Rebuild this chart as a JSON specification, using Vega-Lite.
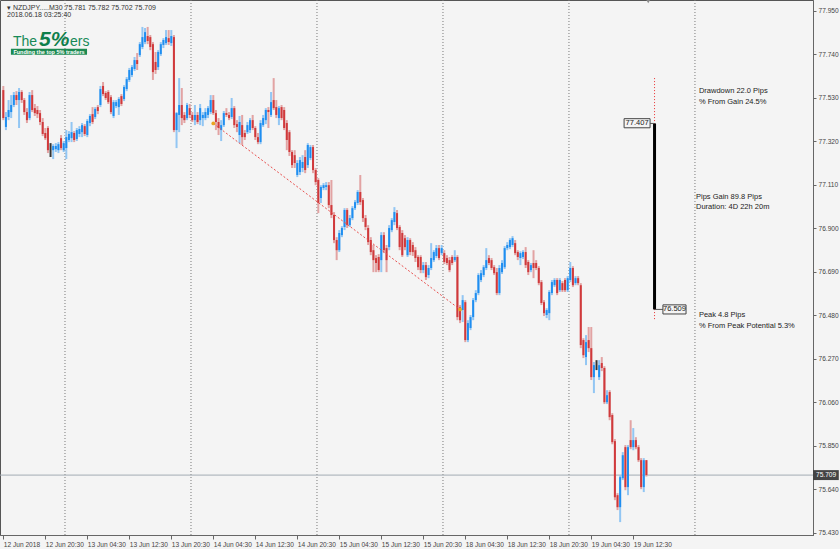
{
"$schema": "https://vega.github.io/schema/vega-lite/v6.json",
"width": 813, "height": 535,
"autosize": {"type": "none"},
"padding": {"left": 0, "top": 0, "right": 27, "bottom": 14},
"background": "#f4f4f4",
"config": {"view": {"stroke": "#555", "strokeWidth": 1, "fill": "#f4f4f4"}, "font": "Liberation Sans"},
"data": {"values": [{}]},
"datasets": {
"bars": [
{"i":0,"o":77.568,"c":77.433,"h":77.588,"l":77.423},
{"i":1,"o":77.390,"c":77.438,"h":77.462,"l":77.375},
{"i":2,"o":77.438,"c":77.472,"h":77.520,"l":77.423},
{"i":3,"o":77.462,"c":77.496,"h":77.544,"l":77.433},
{"i":4,"o":77.496,"c":77.544,"h":77.559,"l":77.486},
{"i":5,"o":77.544,"c":77.520,"h":77.563,"l":77.496},
{"i":6,"o":77.520,"c":77.559,"h":77.578,"l":77.385},
{"i":7,"o":77.559,"c":77.520,"h":77.568,"l":77.506},
{"i":8,"o":77.520,"c":77.462,"h":77.530,"l":77.448},
{"i":9,"o":77.462,"c":77.423,"h":77.481,"l":77.409},
{"i":10,"o":77.433,"c":77.544,"h":77.559,"l":77.423},
{"i":11,"o":77.544,"c":77.472,"h":77.568,"l":77.462},
{"i":12,"o":77.481,"c":77.457,"h":77.501,"l":77.443},
{"i":13,"o":77.472,"c":77.452,"h":77.491,"l":77.433},
{"i":14,"o":77.457,"c":77.414,"h":77.472,"l":77.399},
{"i":15,"o":77.414,"c":77.356,"h":77.433,"l":77.346},
{"i":16,"o":77.361,"c":77.336,"h":77.385,"l":77.327},
{"i":17,"o":77.385,"c":77.278,"h":77.394,"l":77.264},
{"i":18,"o":77.283,"c":77.283,"h":77.312,"l":77.245},
{"i":19,"o":77.278,"c":77.298,"h":77.307,"l":77.235},
{"i":20,"o":77.283,"c":77.298,"h":77.312,"l":77.269},
{"i":21,"o":77.278,"c":77.307,"h":77.317,"l":77.264},
{"i":22,"o":77.336,"c":77.288,"h":77.351,"l":77.278},
{"i":23,"o":77.278,"c":77.312,"h":77.322,"l":77.269},
{"i":24,"o":77.288,"c":77.341,"h":77.375,"l":77.235},
{"i":25,"o":77.327,"c":77.356,"h":77.370,"l":77.317},
{"i":26,"o":77.336,"c":77.365,"h":77.414,"l":77.317},
{"i":27,"o":77.361,"c":77.327,"h":77.370,"l":77.317},
{"i":28,"o":77.332,"c":77.375,"h":77.385,"l":77.322},
{"i":29,"o":77.356,"c":77.380,"h":77.394,"l":77.341},
{"i":30,"o":77.365,"c":77.399,"h":77.409,"l":77.341},
{"i":31,"o":77.394,"c":77.356,"h":77.404,"l":77.346},
{"i":32,"o":77.351,"c":77.419,"h":77.428,"l":77.341},
{"i":33,"o":77.409,"c":77.443,"h":77.452,"l":77.394},
{"i":34,"o":77.452,"c":77.414,"h":77.486,"l":77.404},
{"i":35,"o":77.438,"c":77.477,"h":77.486,"l":77.428},
{"i":36,"o":77.486,"c":77.467,"h":77.496,"l":77.452},
{"i":37,"o":77.496,"c":77.573,"h":77.588,"l":77.486},
{"i":38,"o":77.588,"c":77.549,"h":77.607,"l":77.539},
{"i":39,"o":77.554,"c":77.530,"h":77.563,"l":77.520},
{"i":40,"o":77.559,"c":77.510,"h":77.568,"l":77.501},
{"i":41,"o":77.534,"c":77.462,"h":77.544,"l":77.452},
{"i":42,"o":77.443,"c":77.510,"h":77.520,"l":77.433},
{"i":43,"o":77.491,"c":77.510,"h":77.520,"l":77.481},
{"i":44,"o":77.486,"c":77.525,"h":77.534,"l":77.448},
{"i":45,"o":77.539,"c":77.501,"h":77.549,"l":77.491},
{"i":46,"o":77.525,"c":77.583,"h":77.592,"l":77.515},
{"i":47,"o":77.573,"c":77.621,"h":77.631,"l":77.563},
{"i":48,"o":77.617,"c":77.665,"h":77.675,"l":77.607},
{"i":49,"o":77.641,"c":77.679,"h":77.689,"l":77.631},
{"i":50,"o":77.670,"c":77.713,"h":77.728,"l":77.660},
{"i":51,"o":77.713,"c":77.694,"h":77.747,"l":77.665},
{"i":52,"o":77.737,"c":77.790,"h":77.800,"l":77.728},
{"i":53,"o":77.776,"c":77.824,"h":77.873,"l":77.766},
{"i":54,"o":77.800,"c":77.848,"h":77.868,"l":77.790},
{"i":55,"o":77.829,"c":77.805,"h":77.873,"l":77.790},
{"i":56,"o":77.824,"c":77.776,"h":77.834,"l":77.761},
{"i":57,"o":77.790,"c":77.655,"h":77.800,"l":77.617},
{"i":58,"o":77.704,"c":77.665,"h":77.752,"l":77.646},
{"i":59,"o":77.679,"c":77.752,"h":77.761,"l":77.665},
{"i":60,"o":77.742,"c":77.790,"h":77.800,"l":77.733},
{"i":61,"o":77.786,"c":77.810,"h":77.819,"l":77.771},
{"i":62,"o":77.795,"c":77.824,"h":77.858,"l":77.786},
{"i":63,"o":77.819,"c":77.800,"h":77.858,"l":77.786},
{"i":64,"o":77.795,"c":77.829,"h":77.858,"l":77.781},
{"i":65,"o":77.824,"c":77.375,"h":77.834,"l":77.365},
{"i":66,"o":77.375,"c":77.457,"h":77.462,"l":77.288},
{"i":67,"o":77.448,"c":77.496,"h":77.626,"l":77.365},
{"i":68,"o":77.496,"c":77.433,"h":77.578,"l":77.399},
{"i":69,"o":77.448,"c":77.423,"h":77.462,"l":77.409},
{"i":70,"o":77.433,"c":77.496,"h":77.506,"l":77.423},
{"i":71,"o":77.481,"c":77.448,"h":77.501,"l":77.433},
{"i":72,"o":77.448,"c":77.423,"h":77.462,"l":77.414},
{"i":73,"o":77.423,"c":77.448,"h":77.496,"l":77.399},
{"i":74,"o":77.448,"c":77.414,"h":77.462,"l":77.404},
{"i":75,"o":77.423,"c":77.481,"h":77.501,"l":77.399},
{"i":76,"o":77.433,"c":77.448,"h":77.462,"l":77.394},
{"i":77,"o":77.433,"c":77.462,"h":77.481,"l":77.423},
{"i":78,"o":77.448,"c":77.481,"h":77.491,"l":77.433},
{"i":79,"o":77.462,"c":77.520,"h":77.544,"l":77.452},
{"i":80,"o":77.520,"c":77.457,"h":77.544,"l":77.448},
{"i":81,"o":77.457,"c":77.414,"h":77.472,"l":77.375},
{"i":82,"o":77.414,"c":77.385,"h":77.433,"l":77.351},
{"i":83,"o":77.375,"c":77.399,"h":77.423,"l":77.322},
{"i":84,"o":77.399,"c":77.457,"h":77.467,"l":77.390},
{"i":85,"o":77.457,"c":77.448,"h":77.481,"l":77.438},
{"i":86,"o":77.448,"c":77.433,"h":77.462,"l":77.423},
{"i":87,"o":77.438,"c":77.481,"h":77.530,"l":77.428},
{"i":88,"o":77.481,"c":77.399,"h":77.491,"l":77.385},
{"i":89,"o":77.404,"c":77.390,"h":77.423,"l":77.365},
{"i":90,"o":77.351,"c":77.414,"h":77.443,"l":77.312},
{"i":91,"o":77.399,"c":77.341,"h":77.448,"l":77.303},
{"i":92,"o":77.361,"c":77.341,"h":77.375,"l":77.327},
{"i":93,"o":77.365,"c":77.399,"h":77.414,"l":77.356},
{"i":94,"o":77.375,"c":77.423,"h":77.433,"l":77.361},
{"i":95,"o":77.423,"c":77.385,"h":77.448,"l":77.375},
{"i":96,"o":77.385,"c":77.341,"h":77.394,"l":77.327},
{"i":97,"o":77.341,"c":77.317,"h":77.361,"l":77.307},
{"i":98,"o":77.317,"c":77.409,"h":77.423,"l":77.307},
{"i":99,"o":77.399,"c":77.433,"h":77.448,"l":77.390},
{"i":100,"o":77.423,"c":77.472,"h":77.481,"l":77.404},
{"i":101,"o":77.472,"c":77.462,"h":77.486,"l":77.385},
{"i":102,"o":77.448,"c":77.510,"h":77.559,"l":77.438},
{"i":103,"o":77.520,"c":77.481,"h":77.626,"l":77.472},
{"i":104,"o":77.486,"c":77.448,"h":77.520,"l":77.433},
{"i":105,"o":77.433,"c":77.481,"h":77.491,"l":77.399},
{"i":106,"o":77.486,"c":77.433,"h":77.496,"l":77.423},
{"i":107,"o":77.472,"c":77.385,"h":77.486,"l":77.375},
{"i":108,"o":77.409,"c":77.327,"h":77.423,"l":77.278},
{"i":109,"o":77.365,"c":77.269,"h":77.375,"l":77.250},
{"i":110,"o":77.269,"c":77.206,"h":77.278,"l":77.192},
{"i":111,"o":77.254,"c":77.216,"h":77.278,"l":77.192},
{"i":112,"o":77.158,"c":77.216,"h":77.230,"l":77.148},
{"i":113,"o":77.172,"c":77.230,"h":77.245,"l":77.158},
{"i":114,"o":77.192,"c":77.221,"h":77.254,"l":77.172},
{"i":115,"o":77.245,"c":77.182,"h":77.278,"l":77.167},
{"i":116,"o":77.206,"c":77.303,"h":77.312,"l":77.192},
{"i":117,"o":77.240,"c":77.293,"h":77.303,"l":77.230},
{"i":118,"o":77.293,"c":77.182,"h":77.303,"l":77.167},
{"i":119,"o":77.182,"c":77.124,"h":77.192,"l":77.109},
{"i":120,"o":77.134,"c":77.023,"h":77.143,"l":76.974},
{"i":121,"o":77.047,"c":77.100,"h":77.109,"l":77.023},
{"i":122,"o":77.095,"c":77.109,"h":77.119,"l":77.085},
{"i":123,"o":77.100,"c":77.109,"h":77.124,"l":77.085},
{"i":124,"o":77.109,"c":77.013,"h":77.124,"l":76.998},
{"i":125,"o":77.013,"c":76.965,"h":77.134,"l":76.950},
{"i":126,"o":76.965,"c":76.844,"h":76.979,"l":76.829},
{"i":127,"o":76.844,"c":76.795,"h":76.858,"l":76.747},
{"i":128,"o":76.795,"c":76.878,"h":76.892,"l":76.786},
{"i":129,"o":76.868,"c":76.902,"h":76.911,"l":76.858},
{"i":130,"o":76.907,"c":76.989,"h":76.998,"l":76.892},
{"i":131,"o":76.989,"c":76.916,"h":76.998,"l":76.902},
{"i":132,"o":76.916,"c":76.950,"h":76.965,"l":76.907},
{"i":133,"o":76.950,"c":76.998,"h":77.008,"l":76.940},
{"i":134,"o":76.998,"c":77.027,"h":77.037,"l":76.989},
{"i":135,"o":77.023,"c":77.076,"h":77.085,"l":77.013},
{"i":136,"o":77.076,"c":77.027,"h":77.158,"l":77.013},
{"i":137,"o":77.037,"c":76.950,"h":77.047,"l":76.931},
{"i":138,"o":76.950,"c":76.907,"h":76.965,"l":76.892},
{"i":139,"o":76.902,"c":76.834,"h":76.916,"l":76.820},
{"i":140,"o":76.844,"c":76.786,"h":76.858,"l":76.771},
{"i":141,"o":76.795,"c":76.747,"h":76.820,"l":76.689},
{"i":142,"o":76.757,"c":76.733,"h":76.771,"l":76.689},
{"i":143,"o":76.762,"c":76.699,"h":76.776,"l":76.689},
{"i":144,"o":76.747,"c":76.868,"h":76.882,"l":76.689},
{"i":145,"o":76.868,"c":76.795,"h":76.882,"l":76.781},
{"i":146,"o":76.805,"c":76.747,"h":76.820,"l":76.689},
{"i":147,"o":76.810,"c":76.902,"h":76.916,"l":76.795},
{"i":148,"o":76.892,"c":76.940,"h":76.950,"l":76.882},
{"i":149,"o":76.931,"c":76.979,"h":77.003,"l":76.916},
{"i":150,"o":76.974,"c":76.902,"h":76.989,"l":76.892},
{"i":151,"o":76.907,"c":76.810,"h":76.916,"l":76.795},
{"i":152,"o":76.878,"c":76.771,"h":76.892,"l":76.762},
{"i":153,"o":76.853,"c":76.810,"h":76.868,"l":76.795},
{"i":154,"o":76.771,"c":76.844,"h":76.858,"l":76.762},
{"i":155,"o":76.844,"c":76.786,"h":76.853,"l":76.771},
{"i":156,"o":76.820,"c":76.786,"h":76.834,"l":76.767},
{"i":157,"o":76.795,"c":76.757,"h":76.810,"l":76.738},
{"i":158,"o":76.762,"c":76.713,"h":76.771,"l":76.699},
{"i":159,"o":76.762,"c":76.699,"h":76.771,"l":76.684},
{"i":160,"o":76.699,"c":76.723,"h":76.738,"l":76.684},
{"i":161,"o":76.723,"c":76.665,"h":76.738,"l":76.651},
{"i":162,"o":76.675,"c":76.709,"h":76.723,"l":76.660},
{"i":163,"o":76.709,"c":76.757,"h":76.829,"l":76.699},
{"i":164,"o":76.747,"c":76.786,"h":76.795,"l":76.738},
{"i":165,"o":76.767,"c":76.805,"h":76.820,"l":76.757},
{"i":166,"o":76.805,"c":76.757,"h":76.820,"l":76.747},
{"i":167,"o":76.781,"c":76.805,"h":76.820,"l":76.771},
{"i":168,"o":76.781,"c":76.738,"h":76.795,"l":76.728},
{"i":169,"o":76.757,"c":76.733,"h":76.771,"l":76.723},
{"i":170,"o":76.747,"c":76.699,"h":76.762,"l":76.689},
{"i":171,"o":76.762,"c":76.733,"h":76.771,"l":76.723},
{"i":172,"o":76.747,"c":76.762,"h":76.795,"l":76.738},
{"i":173,"o":76.762,"c":76.472,"h":76.771,"l":76.457},
{"i":174,"o":76.520,"c":76.457,"h":76.530,"l":76.443},
{"i":175,"o":76.506,"c":76.554,"h":76.578,"l":76.448},
{"i":176,"o":76.544,"c":76.361,"h":76.554,"l":76.351},
{"i":177,"o":76.361,"c":76.443,"h":76.457,"l":76.351},
{"i":178,"o":76.419,"c":76.472,"h":76.482,"l":76.409},
{"i":179,"o":76.472,"c":76.554,"h":76.564,"l":76.457},
{"i":180,"o":76.554,"c":76.588,"h":76.602,"l":76.544},
{"i":181,"o":76.588,"c":76.675,"h":76.684,"l":76.578},
{"i":182,"o":76.651,"c":76.684,"h":76.699,"l":76.641},
{"i":183,"o":76.675,"c":76.713,"h":76.723,"l":76.665},
{"i":184,"o":76.709,"c":76.747,"h":76.805,"l":76.699},
{"i":185,"o":76.757,"c":76.733,"h":76.771,"l":76.723},
{"i":186,"o":76.747,"c":76.709,"h":76.757,"l":76.699},
{"i":187,"o":76.713,"c":76.684,"h":76.723,"l":76.675},
{"i":188,"o":76.689,"c":76.588,"h":76.709,"l":76.578},
{"i":189,"o":76.588,"c":76.709,"h":76.723,"l":76.578},
{"i":190,"o":76.689,"c":76.733,"h":76.747,"l":76.680},
{"i":191,"o":76.713,"c":76.805,"h":76.815,"l":76.704},
{"i":192,"o":76.805,"c":76.820,"h":76.834,"l":76.795},
{"i":193,"o":76.810,"c":76.844,"h":76.853,"l":76.800},
{"i":194,"o":76.820,"c":76.853,"h":76.863,"l":76.810},
{"i":195,"o":76.829,"c":76.781,"h":76.844,"l":76.771},
{"i":196,"o":76.786,"c":76.762,"h":76.795,"l":76.747},
{"i":197,"o":76.757,"c":76.781,"h":76.790,"l":76.723},
{"i":198,"o":76.762,"c":76.786,"h":76.795,"l":76.752},
{"i":199,"o":76.786,"c":76.723,"h":76.810,"l":76.709},
{"i":200,"o":76.738,"c":76.689,"h":76.747,"l":76.675},
{"i":201,"o":76.699,"c":76.723,"h":76.733,"l":76.689},
{"i":202,"o":76.733,"c":76.709,"h":76.795,"l":76.660},
{"i":203,"o":76.733,"c":76.709,"h":76.747,"l":76.699},
{"i":204,"o":76.709,"c":76.636,"h":76.718,"l":76.626},
{"i":205,"o":76.641,"c":76.540,"h":76.651,"l":76.530},
{"i":206,"o":76.544,"c":76.491,"h":76.554,"l":76.477},
{"i":207,"o":76.482,"c":76.506,"h":76.515,"l":76.467},
{"i":208,"o":76.491,"c":76.593,"h":76.602,"l":76.457},
{"i":209,"o":76.588,"c":76.641,"h":76.651,"l":76.578},
{"i":210,"o":76.626,"c":76.651,"h":76.660,"l":76.617},
{"i":211,"o":76.651,"c":76.588,"h":76.660,"l":76.578},
{"i":212,"o":76.602,"c":76.651,"h":76.660,"l":76.593},
{"i":213,"o":76.636,"c":76.602,"h":76.646,"l":76.593},
{"i":214,"o":76.651,"c":76.602,"h":76.660,"l":76.593},
{"i":215,"o":76.602,"c":76.660,"h":76.670,"l":76.593},
{"i":216,"o":76.651,"c":76.709,"h":76.738,"l":76.641},
{"i":217,"o":76.709,"c":76.626,"h":76.718,"l":76.617},
{"i":218,"o":76.636,"c":76.660,"h":76.670,"l":76.626},
{"i":219,"o":76.660,"c":76.636,"h":76.670,"l":76.626},
{"i":220,"o":76.626,"c":76.337,"h":76.636,"l":76.322},
{"i":221,"o":76.361,"c":76.288,"h":76.370,"l":76.274},
{"i":222,"o":76.279,"c":76.351,"h":76.385,"l":76.240},
{"i":223,"o":76.361,"c":76.322,"h":76.424,"l":76.303},
{"i":224,"o":76.322,"c":76.182,"h":76.424,"l":76.168},
{"i":225,"o":76.182,"c":76.240,"h":76.255,"l":76.105},
{"i":226,"o":76.245,"c":76.245,"h":76.264,"l":76.216},
{"i":227,"o":76.182,"c":76.240,"h":76.264,"l":76.168},
{"i":228,"o":76.250,"c":76.226,"h":76.279,"l":76.211},
{"i":229,"o":76.226,"c":76.061,"h":76.235,"l":76.052},
{"i":230,"o":76.061,"c":76.095,"h":76.119,"l":76.052},
{"i":231,"o":76.110,"c":75.989,"h":76.119,"l":75.974},
{"i":232,"o":75.999,"c":75.868,"h":76.008,"l":75.858},
{"i":233,"o":75.873,"c":75.602,"h":75.883,"l":75.588},
{"i":234,"o":75.612,"c":75.554,"h":75.622,"l":75.540},
{"i":235,"o":75.554,"c":75.699,"h":75.709,"l":75.482},
{"i":236,"o":75.694,"c":75.805,"h":75.820,"l":75.685},
{"i":237,"o":75.844,"c":75.651,"h":75.854,"l":75.636},
{"i":238,"o":75.651,"c":75.844,"h":75.854,"l":75.612},
{"i":239,"o":75.878,"c":75.844,"h":75.974,"l":75.834},
{"i":240,"o":75.844,"c":75.878,"h":75.936,"l":75.829},
{"i":241,"o":75.878,"c":75.844,"h":75.892,"l":75.834},
{"i":242,"o":75.844,"c":75.781,"h":75.854,"l":75.772},
{"i":243,"o":75.781,"c":75.651,"h":75.791,"l":75.641},
{"i":244,"o":75.651,"c":75.781,"h":75.791,"l":75.627},
{"i":245,"o":75.781,"c":75.709,"h":75.782,"l":75.702}
],
"days": [{"i":23.5},{"i":71.5},{"i":119.5},{"i":167.5},{"i":215.5},{"i":263.5}]
},
"layer": [
{"data": {"name": "days"}, "mark": {"type": "rule", "color": "#7a7a7a", "strokeDash": [1, 2], "strokeWidth": 1},
 "encoding": {"x": {"field": "i", "type": "quantitative", "title": null,
   "scale": {"domain": [-1.26, 308.47], "nice": false, "zero": false},
   "axis": {"values": [0,16,32,48,64,80,96,112,128,144,160,176,192,208,224,240],
     "labelExpr": "['12 Jun 2018','12 Jun 20:30','13 Jun 04:30','13 Jun 12:30','13 Jun 20:30','14 Jun 04:30','14 Jun 12:30','14 Jun 20:30','15 Jun 04:30','15 Jun 12:30','15 Jun 20:30','18 Jun 04:30','18 Jun 12:30','18 Jun 20:30','19 Jun 04:30','19 Jun 12:30'][round(datum.value/16)]",
     "labelAlign": "left", "labelFontSize": 6.6, "labelColor": "#444", "labelFont": "Liberation Sans", "labelPadding": 2,
     "tickSize": 4, "tickColor": "#666", "domainColor": "#666", "grid": false, "labelOverlap": false, "labelFlush": false}}}},
{"data": {"values": [{"p": 75.709}]}, "mark": {"type": "rule", "color": "#a3abb3", "strokeWidth": 1},
 "encoding": {"y": {"field": "p", "type": "quantitative", "title": null,
   "scale": {"domain": [75.4197, 78.0031], "nice": false, "zero": false},
   "axis": {"orient": "right", "values": [75.43,75.535,75.64,75.745,75.85,75.955,76.06,76.165,76.27,76.375,76.48,76.585,76.69,76.795,76.9,77.005,77.11,77.215,77.32,77.425,77.53,77.635,77.74,77.845,77.95],
     "format": ".3f", "labelFontSize": 6.6, "labelColor": "#444", "labelFont": "Liberation Sans", "labelPadding": 2,
     "tickSize": 3, "tickColor": "#666", "domainColor": "#666", "grid": false, "labelOverlap": false, "labelFlush": false}}}},
{"data": {"name": "bars"}, "mark": {"type": "rule", "strokeWidth": 2},
 "encoding": {"x": {"field": "i", "type": "quantitative", "title": null},
   "y": {"field": "l", "type": "quantitative", "title": null}, "y2": {"field": "h"},
   "color": {"condition": [{"test": "datum.c > datum.o", "value": "#92c6f3"}, {"test": "datum.c < datum.o", "value": "#e2a3a3"}], "value": "#333333"}}},
{"data": {"name": "bars"}, "mark": {"type": "rule", "strokeWidth": 2},
 "encoding": {"x": {"field": "i", "type": "quantitative", "title": null},
   "y": {"field": "o", "type": "quantitative", "title": null}, "y2": {"field": "c"},
   "color": {"condition": [{"test": "datum.c > datum.o", "value": "#1f8ef0"}, {"test": "datum.c < datum.o", "value": "#d0393b"}], "value": "#333333"}}},
{"data": {"values": [{"i": 80, "p": 77.407}, {"i": 174, "p": 76.509}]}, "mark": {"type": "line", "color": "#e8504f", "strokeDash": [2, 2], "strokeWidth": 1},
 "encoding": {"x": {"field": "i", "type": "quantitative", "title": null}, "y": {"field": "p", "type": "quantitative", "title": null}}},
{"data": {"values": [{"i": 80, "p": 77.407}, {"i": 174, "p": 76.509}]}, "mark": {"type": "point", "filled": true, "color": "#eaa420", "size": 14, "opacity": 1},
 "encoding": {"x": {"field": "i", "type": "quantitative", "title": null}, "y": {"field": "p", "type": "quantitative", "title": null}}},
{"mark": {"type": "rule", "color": "#e83030", "strokeDash": [1, 2], "strokeWidth": 1},
 "encoding": {"x": {"datum": 248.1}, "y": {"datum": 77.626}, "y2": {"datum": 76.458}}},
{"mark": {"type": "rule", "color": "#000000", "strokeWidth": 3},
 "encoding": {"x": {"datum": 248.1}, "y": {"datum": 77.407}, "y2": {"datum": 76.509}}},
{"mark": {"type": "rule", "color": "#555", "strokeWidth": 1},
 "encoding": {"x": {"datum": 246.4}, "x2": {"datum": 248.1}, "y": {"datum": 77.407}}},
{"mark": {"type": "rule", "color": "#555", "strokeWidth": 1},
 "encoding": {"x": {"datum": 248.1}, "x2": {"datum": 251.3}, "y": {"datum": 76.509}}},
{"mark": {"type": "rect", "fill": "#f4f4f4", "stroke": "#444", "strokeWidth": 1},
 "encoding": {"x": {"datum": 236.5}, "x2": {"datum": 246.4}, "y": {"datum": 77.430}, "y2": {"datum": 77.386}}},
{"mark": {"type": "rect", "fill": "#f4f4f4", "stroke": "#444", "strokeWidth": 1},
 "encoding": {"x": {"datum": 251.3}, "x2": {"datum": 260.1}, "y": {"datum": 76.531}, "y2": {"datum": 76.487}}},
{"mark": {"type": "text", "fontSize": 7.5, "color": "#222", "align": "center", "baseline": "middle", "font": "Liberation Sans"},
 "encoding": {"x": {"datum": 241.45}, "y": {"datum": 77.408}, "text": {"value": "77.407"}}},
{"mark": {"type": "text", "fontSize": 7.5, "color": "#222", "align": "center", "baseline": "middle", "font": "Liberation Sans"},
 "encoding": {"x": {"datum": 255.7}, "y": {"datum": 76.509}, "text": {"value": "76.509"}}},
{"mark": {"type": "text", "fontSize": 7.5, "color": "#222", "align": "left", "baseline": "middle", "lineHeight": 11, "font": "Liberation Sans"},
 "encoding": {"x": {"datum": 265.0}, "y": {"datum": 77.564}, "text": {"value": ["Drawdown 22.0 Pips", "% From Gain 24.5%"]}}},
{"mark": {"type": "text", "fontSize": 7.5, "color": "#222", "align": "left", "baseline": "middle", "lineHeight": 10, "font": "Liberation Sans"},
 "encoding": {"x": {"datum": 263.9}, "y": {"datum": 77.052}, "text": {"value": ["Pips Gain 89.8 Pips", "Duration: 4D 22h 20m"]}}},
{"mark": {"type": "text", "fontSize": 7.5, "color": "#222", "align": "left", "baseline": "middle", "lineHeight": 11, "font": "Liberation Sans"},
 "encoding": {"x": {"datum": 265.0}, "y": {"datum": 76.482}, "text": {"value": ["Peak 4.8 Pips", "% From Peak Potential 5.3%"]}}},
{"mark": {"type": "rect", "fill": "#444444"},
 "encoding": {"x": {"datum": 308.47}, "x2": {"datum": 318.3}, "y": {"datum": 75.733}, "y2": {"datum": 75.685}}},
{"mark": {"type": "text", "fontSize": 6.6, "color": "#ffffff", "align": "left", "baseline": "middle", "font": "Liberation Sans"},
 "encoding": {"x": {"datum": 309.6}, "y": {"datum": 75.709}, "text": {"value": "75.709"}}},
{"mark": {"type": "point", "shape": "triangle-down", "filled": true, "color": "#8a8a8a", "size": 18, "opacity": 1},
 "encoding": {"x": {"datum": 245.7}, "y": {"datum": 77.996}}},
{"mark": {"type": "text", "fontSize": 7, "color": "#333", "align": "left", "baseline": "middle", "font": "Liberation Sans"},
 "encoding": {"x": {"datum": 1.4}, "y": {"datum": 77.966}, "text": {"value": "▾ NZDJPY.....M30  75.781 75.782 75.702 75.709"}}},
{"mark": {"type": "text", "fontSize": 7, "color": "#333", "align": "left", "baseline": "middle", "font": "Liberation Sans"},
 "encoding": {"x": {"datum": 1.4}, "y": {"datum": 77.933}, "text": {"value": "2018.06.18 03:25:40"}}},
{"mark": {"type": "text", "fontSize": 14, "color": "#178a57", "align": "left", "baseline": "alphabetic", "font": "Liberation Sans"},
 "encoding": {"x": {"datum": 3.7}, "y": {"datum": 77.783}, "text": {"value": "The"}}},
{"mark": {"type": "text", "fontSize": 21, "color": "#0f7f4c", "align": "left", "baseline": "alphabetic", "font": "Liberation Sans", "fontWeight": "bold", "fontStyle": "italic"},
 "encoding": {"x": {"datum": 13.6}, "y": {"datum": 77.783}, "text": {"value": "5%"}}},
{"mark": {"type": "text", "fontSize": 14, "color": "#178a57", "align": "left", "baseline": "alphabetic", "font": "Liberation Sans"},
 "encoding": {"x": {"datum": 25.4}, "y": {"datum": 77.783}, "text": {"value": "ers"}}},
{"mark": {"type": "rect", "fill": "#1d8a52"},
 "encoding": {"x": {"datum": 2.9}, "x2": {"datum": 31.9}, "y": {"datum": 77.768}, "y2": {"datum": 77.739}}},
{"mark": {"type": "text", "fontSize": 5.5, "color": "#ffffff", "align": "center", "baseline": "middle", "font": "Liberation Sans", "fontWeight": "bold"},
 "encoding": {"x": {"datum": 17.4}, "y": {"datum": 77.7535}, "text": {"value": "Funding the top 5% traders"}}}
]
}
